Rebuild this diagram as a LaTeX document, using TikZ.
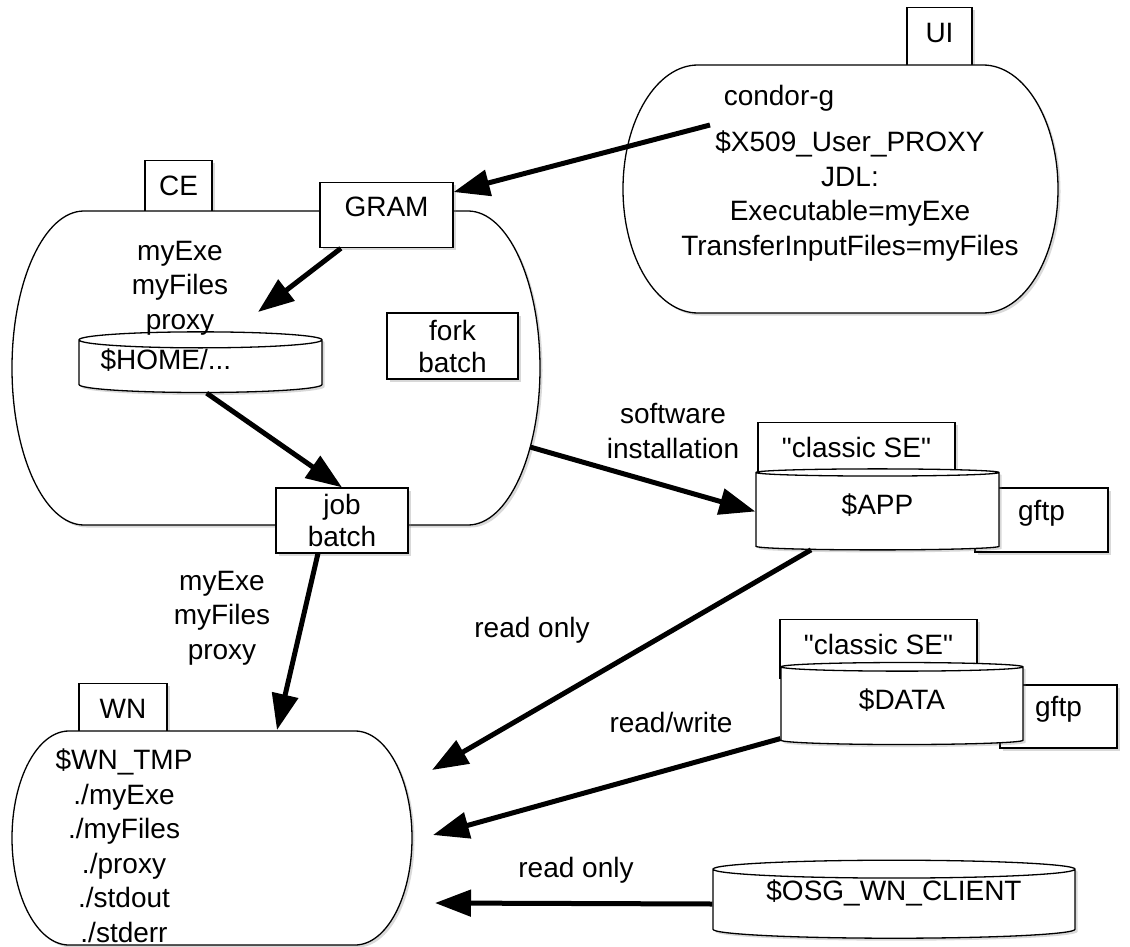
\documentclass[tikz,border=0pt]{standalone}
\usepackage{fontspec}
\setmainfont{Liberation Sans}
\usetikzlibrary{arrows.meta,shapes.geometric,shadows}
\newcommand{\diafont}{\fontsize{28pt}{34.5pt}\selectfont}
\newcommand{\boxfont}{\fontsize{28pt}{32pt}\selectfont}

\begin{document}
\begin{tikzpicture}[x=1pt, y=-1pt, font=\diafont,
  dropsh/.style={drop shadow={opacity=0.3, shadow xshift=2.5pt, shadow yshift=-2.5pt}},
  host/.style={draw, fill=white, line width=1.3pt, dropsh},
  tabbox/.style={draw, fill=white, line width=1.3pt, dropsh, anchor=north, inner sep=0pt, text height=35pt, text depth=24pt},
  boxnode/.style={draw, fill=white, line width=1.3pt, dropsh, inner sep=0pt, align=center, font=\boxfont},
  disk/.style={cylinder, shape border rotate=90, draw, fill=white, line width=1.3pt, dropsh, inner sep=0pt, text height=21pt, text depth=15pt},
  lbl/.style={align=center, inner sep=0pt},
  flow/.style={line width=5pt, -{Triangle[length=36pt, width=26pt]}}]
  \useasboundingbox (0,0) rectangle (1130,947);

  % tabs and gftp boxes, behind the hosts
  \node[tabbox, minimum width=65pt] (uitab) at (939.5,7) {UI};
  \node[tabbox, minimum width=67pt] (cetab) at (178.5,160) {CE};
  \node[tabbox, minimum width=88pt] (wntab) at (123,683) {WN};
  \node[tabbox, minimum width=197pt] (apptab) at (856.5,422) {\textquotedbl classic SE\textquotedbl};
  \node[tabbox, minimum width=197pt] (datatab) at (878.5,619) {\textquotedbl classic SE\textquotedbl};
  \node[boxnode, minimum width=133pt, minimum height=64pt, text height=20pt, text depth=20pt] (appftp) at (1041.5,520) {gftp};
  \node[boxnode, minimum width=117pt, minimum height=63pt, text height=20pt, text depth=20pt] (dataftp) at (1058.5,716.5) {gftp};

  % hosts
  \path[host] (698,65) -- (983,65) arc[start angle=90, end angle=-90, x radius=75pt, y radius=124pt]
    -- (698,313) arc[start angle=270, end angle=90, x radius=75pt, y radius=124pt] -- cycle;
  \path[host] (84,211) -- (468,211) arc[start angle=90, end angle=-90, x radius=72pt, y radius=157pt]
    -- (84,525) arc[start angle=270, end angle=90, x radius=72pt, y radius=157pt] -- cycle;
  \path[host] (69,731) -- (355,731) arc[start angle=90, end angle=-90, x radius=57pt, y radius=107pt]
    -- (69,945) arc[start angle=270, end angle=90, x radius=57pt, y radius=107pt] -- cycle;

  % storage
  \node[disk, minimum width=243pt, minimum height=81pt, aspect=0.1] (app) at (877.5,511.5) {\$APP};
  \node[disk, minimum width=242pt, minimum height=82pt, aspect=0.1] (data) at (902,706) {\$DATA};
  \node[disk, minimum width=362pt, minimum height=78pt, aspect=0.07, text depth=29pt] (osg) at (894,904) {\$OSG\_WN\_CLIENT};
  \node[disk, minimum width=243pt, minimum height=57pt, aspect=0.08, text width=200pt, align=left] (home) at (200.5,366.5) {\$HOME/...};

  % services inside the CE
  \node[boxnode, anchor=north, minimum width=133pt, text height=34pt, text depth=31pt] (gram) at (386.5,182) {GRAM};
  \node[boxnode, minimum width=131pt, minimum height=66pt] (fork) at (452.5,346) {fork\\batch};
  \node[boxnode, minimum width=132pt, minimum height=65pt] (job) at (342,520.5) {job\\batch};

  % texts
  \node[lbl] (condor) at (779,98) {condor-g};
  \node[lbl] (jdl) at (850,196) {\$X509\_User\_PROXY\\JDL:\\Executable=myExe\\TransferInputFiles=myFiles};
  \node[lbl] (cefiles) at (180,288) {myExe\\myFiles\\proxy};
  \node[lbl] (wnfiles) at (222,618) {myExe\\myFiles\\proxy};
  \node[lbl] (wntmp) at (124,846) {\$WN\_TMP\\./myExe\\./myFiles\\./proxy\\./stdout\\./stderr};
  \node[lbl] (swinst) at (673,431) {software\\installation};
  \node[lbl] (ro1) at (532,630) {read only};
  \node[lbl] (rw) at (671,722) {read/write};
  \node[lbl] (ro2) at (576,870) {read only};

  % arrows
  \coordinate (uiport) at (710,125);
  \coordinate (homeport) at (258,312);
  \coordinate (ceport) at (530,447);
  \coordinate (wnport0) at (277,730);
  \coordinate (wnport1) at (432,770);
  \coordinate (wnport2) at (433,835);
  \coordinate (wnport3) at (435,903);
  \draw[flow] (uiport) -- (gram.19);
  \draw[flow] (gram.216) -- (homeport);
  \draw[flow] (home.-77) -- (job.north);
  \draw[flow] (ceport) -- (app.west);
  \draw[flow] (job.234) -- (wnport0);
  \draw[flow] (app.210) -- (wnport1);
  \draw[flow] (data.195) -- (wnport2);
  \draw[flow] (osg.west) -- (wnport3);
\end{tikzpicture}
\end{document}
